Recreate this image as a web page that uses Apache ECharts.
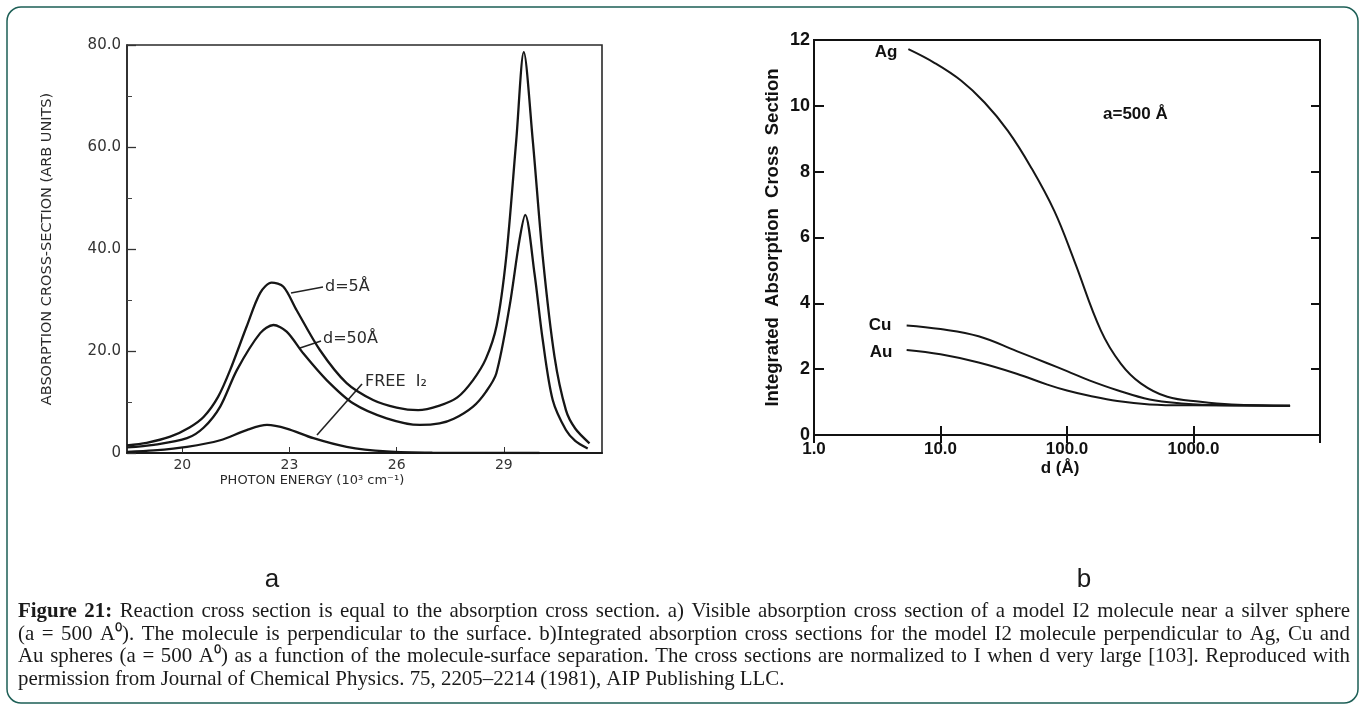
<!DOCTYPE html>
<html><head><meta charset="utf-8">
<script src="https://cdn.jsdelivr.net/npm/echarts@6.0.0/dist/echarts.min.js"></script>
<style>html,body{margin:0;padding:0;background:#fff}#c{width:1365px;height:710px}</style>
</head><body><div id="c"></div>
<script>
// ---------- Panel a : absorption cross-section vs photon energy ----------
const energyD5 = [18.45, 19.0, 19.66, 20.2, 20.6, 21.0, 21.34, 21.8, 22.18, 22.5, 22.83, 23.2, 23.85, 24.6, 25.34, 26.0, 26.6, 27.2, 27.7, 28.14, 28.5, 28.8, 29.07, 29.35, 29.56, 29.81, 30.09, 30.42, 30.74, 31.0, 31.4];
const sigmaD5  = [1.5, 2.0, 3.2, 5.0, 7.1, 11.0, 16.3, 24.8, 31.4, 33.4, 32.6, 28.0, 20.2, 13.7, 10.4, 8.9, 8.4, 9.3, 10.9, 14.3, 18.5, 25.0, 38.5, 61.4, 78.6, 61.4, 38.5, 18.9, 8.4, 4.8, 1.9];
const energyD50 = [18.45, 19.2, 20.13, 20.6, 21.06, 21.53, 22.18, 22.55, 22.92, 23.39, 24.04, 24.79, 25.72, 26.65, 27.2, 27.6, 28.14, 28.5, 28.79, 29.16, 29.44, 29.6, 29.86, 30.09, 30.37, 30.74, 31.0, 31.35];
const sigmaD50  = [1.1, 1.6, 2.9, 5.0, 9.1, 16.3, 23.5, 25.1, 23.8, 19.5, 14.3, 9.7, 6.8, 5.5, 5.8, 6.7, 9.1, 12.0, 15.6, 28.7, 41.8, 46.7, 35.2, 22.2, 10.4, 4.5, 2.4, 0.9];
const energyFree = [18.45, 19.2, 20.13, 21.06, 21.8, 22.37, 22.92, 23.67, 24.6, 25.72, 27.0, 30.0];
const sigmaFree  = [0.2, 0.5, 1.2, 2.5, 4.5, 5.5, 4.8, 2.9, 1.2, 0.3, 0.05, 0.0];
const energyTicks = [20, 23, 26, 29];

// ---------- Panel b : integrated absorption vs separation ----------
const dAg = [5.57, 9.0, 14.6, 22.3, 34.1, 52, 79.5, 114, 185, 266, 383, 621, 1135, 2000, 5800];
const sAg = [11.72, 11.3, 10.76, 10.1, 9.24, 8.13, 6.8, 5.3, 3.18, 2.17, 1.57, 1.16, 1.01, 0.93, 0.89];
const dCu = [5.4, 10, 20, 40, 70, 100, 150, 250, 450, 800, 1500, 5800];
const sCu = [3.33, 3.22, 3.0, 2.55, 2.18, 1.94, 1.66, 1.36, 1.08, 0.96, 0.91, 0.89];
const dAu = [5.4, 10, 20, 40, 70, 100, 150, 250, 450, 1000, 5800];
const sAu = [2.58, 2.45, 2.2, 1.86, 1.53, 1.35, 1.19, 1.03, 0.93, 0.9, 0.89];

const captionLines = [
  {segs: [{t: 'Figure 21:', b: true}, {t: 'Reaction cross section is equal to the absorption cross section. a) Visible absorption cross section of a model I2 molecule near a silver sphere'}], justify: true},
  {segs: [{t: '(a = 500 A\u2070). The molecule is perpendicular to the surface. b)Integrated absorption cross sections for the model I2 molecule perpendicular to Ag, Cu and'}], justify: true},
  {segs: [{t: 'Au spheres (a = 500 A\u2070) as a function of the molecule-surface separation. The cross sections are normalized to I when d very large [103]. Reproduced with'}], justify: true},
  {segs: [{t: 'permission from Journal of Chemical Physics. 75, 2205\u20132214 (1981), AIP Publishing LLC.'}], justify: false}
];

const zip = (xs, ys) => xs.map((x, i) => [x, ys[i]]);
const INK = '#161616';
const sansA = '"DejaVu Sans", sans-serif';
const sansB = '"Liberation Sans", Arial, sans-serif';
const serif = '"Liberation Serif", "Times New Roman", serif';

// caption layout (justified words)
function captionGraphics() {
  const ctx = document.createElement('canvas').getContext('2d');
  const X0 = 18, X1 = 1350, Y0 = 612, LH = 22.5;
  const fontOf = (b, fs) => (b ? 'bold ' : '') + fs + 'px ' + serif;
  const wordsOf = ln => { const w = []; ln.segs.forEach(s => s.t.split(' ').filter(Boolean).forEach(t => w.push({w: t, b: !!s.b}))); return w; };
  const natural = (ln, fs) => {
    const ws = wordsOf(ln); let tot = 0;
    ws.forEach(o => { ctx.font = fontOf(o.b, fs); tot += ctx.measureText(o.w).width; });
    ctx.font = fontOf(false, fs);
    return tot + ctx.measureText(' ').width * (ws.length - 1);
  };
  let fs = 100 * 767 / natural(captionLines[3], 100);
  captionLines.forEach(ln => { if (ln.justify) { const n = natural(ln, fs); if (n > X1 - X0) fs *= (X1 - X0) / n; } });
  fs = Math.floor(fs * 10) / 10;
  const els = [];
  captionLines.forEach((ln, i) => {
    const words = wordsOf(ln);
    words.forEach(o => { ctx.font = fontOf(o.b, fs); o.width = ctx.measureText(o.w).width; });
    ctx.font = fontOf(false, fs);
    const sp = ctx.measureText(' ').width;
    const total = words.reduce((a, o) => a + o.width, 0);
    const gap = ln.justify ? (X1 - X0 - total) / (words.length - 1) : sp;
    let x = X0;
    words.forEach(o => {
      els.push({type: 'text', x: x, y: Y0 + i * LH, silent: true,
        style: {text: o.w, font: fontOf(o.b, fs), fill: '#1a1a1a', textVerticalAlign: 'middle'}});
      x += o.width + gap;
    });
  });
  return els;
}

const chart = echarts.init(document.getElementById('c'), null, {renderer: 'canvas'});

const lineStyleA = {color: INK, width: 2.3};
const lineStyleB = {color: INK, width: 2};

const option = {
  backgroundColor: '#fff',
  animation: false,
  grid: [
    {left: 127, top: 45, width: 475, height: 408, show: true, borderColor: '#2a2a2a', borderWidth: 1.6, backgroundColor: 'transparent'},
    {left: 814, top: 40, width: 506, height: 395, show: true, borderColor: '#111', borderWidth: 2, backgroundColor: 'transparent'}
  ],
  xAxis: [
    {gridIndex: 0, type: 'value', min: 18.45, max: 31.75,
      axisLine: {show: true, lineStyle: {color: '#1a1a1a', width: 2}},
      axisTick: {show: true, inside: true, length: 6, customValues: energyTicks, lineStyle: {color: '#333'}},
      axisLabel: {customValues: energyTicks, fontSize: 14, fontFamily: sansA, color: '#333', margin: 5},
      splitLine: {show: false}},
    {gridIndex: 1, type: 'log', logBase: 10, min: 1, max: 10000,
      axisLine: {show: true, lineStyle: {color: '#111', width: 2}},
      axisTick: {show: true, inside: true, length: 9, lineStyle: {color: '#111', width: 2}},
      axisLabel: {fontSize: 17, fontWeight: 'bold', fontFamily: sansB, color: '#111', margin: 6,
        formatter: v => (v >= 10000 ? '' : v.toFixed(1))},
      splitLine: {show: false}, minorTick: {show: false}},
    {gridIndex: 1, type: 'log', logBase: 10, min: 1, max: 10000, position: 'top',
      axisLine: {show: false},
      axisTick: {show: true, inside: true, length: 8, lineStyle: {color: '#111', width: 2}},
      axisLabel: {show: false}, splitLine: {show: false}}
  ],
  yAxis: [
    {gridIndex: 0, type: 'value', min: 0, max: 80, interval: 20,
      axisLine: {show: true, lineStyle: {color: '#2a2a2a', width: 1.6}},
      axisTick: {show: true, inside: true, length: 9, lineStyle: {color: '#333', width: 1.3}},
      minorTick: {show: true, splitNumber: 2, length: 5, lineStyle: {color: '#444'}},
      axisLabel: {fontSize: 15, fontFamily: sansA, color: '#333', margin: 6,
        formatter: v => (v === 0 ? '0' : v.toFixed(1))},
      splitLine: {show: false},
      name: 'ABSORPTION CROSS-SECTION (ARB UNITS)', nameLocation: 'middle', nameGap: 72, nameRotate: 90,
      nameTextStyle: {fontSize: 14.5, fontFamily: sansA, color: '#2a2a2a'}},
    {gridIndex: 1, type: 'value', min: 0, max: 12, interval: 2,
      axisLine: {show: true, lineStyle: {color: '#111', width: 2}},
      axisTick: {show: true, inside: true, length: 10, lineStyle: {color: '#111', width: 2}},
      axisLabel: {fontSize: 18, fontWeight: 'bold', fontFamily: sansB, color: '#111', margin: 4},
      splitLine: {show: false},
      name: 'Integrated  Absorption  Cross  Section', nameLocation: 'middle', nameGap: 32, nameRotate: 90,
      nameTextStyle: {fontSize: 18.5, fontWeight: 'bold', fontFamily: sansB, color: '#111'}},
    {gridIndex: 1, type: 'value', min: 0, max: 12, interval: 2, position: 'right',
      axisLine: {show: false},
      axisTick: {show: true, inside: true, length: 9, lineStyle: {color: '#111', width: 2}},
      axisLabel: {show: false}, splitLine: {show: false}}
  ],
  series: [
    {name: 'd=5Å', type: 'line', xAxisIndex: 0, yAxisIndex: 0, data: zip(energyD5, sigmaD5), showSymbol: false, smooth: 0.3, lineStyle: lineStyleA},
    {name: 'd=50Å', type: 'line', xAxisIndex: 0, yAxisIndex: 0, data: zip(energyD50, sigmaD50), showSymbol: false, smooth: 0.3, lineStyle: lineStyleA},
    {name: 'FREE I2', type: 'line', xAxisIndex: 0, yAxisIndex: 0, data: zip(energyFree, sigmaFree), showSymbol: false, smooth: 0.3, lineStyle: lineStyleA},
    {name: 'Ag', type: 'line', xAxisIndex: 1, yAxisIndex: 1, data: zip(dAg, sAg), showSymbol: false, smooth: 0.4, lineStyle: lineStyleB},
    {name: 'Cu', type: 'line', xAxisIndex: 1, yAxisIndex: 1, data: zip(dCu, sCu), showSymbol: false, smooth: 0.4, lineStyle: lineStyleB},
    {name: 'Au', type: 'line', xAxisIndex: 1, yAxisIndex: 1, data: zip(dAu, sAu), showSymbol: false, smooth: 0.4, lineStyle: lineStyleB}
  ],
  graphic: [
    {type: 'rect', shape: {x: 7, y: 7, width: 1351, height: 696, r: 14}, silent: true,
      style: {fill: 'none', stroke: '#1d5f56', lineWidth: 1.5}},
    // panel a annotations
    {type: 'text', x: 312, y: 481, silent: true, style: {text: 'PHOTON ENERGY (10\u00b3 cm\u207b\u00b9)', font: '13px ' + sansA, fill: '#2a2a2a', textAlign: 'center', textVerticalAlign: 'middle'}},
    {type: 'line', shape: {x1: 291, y1: 293, x2: 323, y2: 287}, silent: true, style: {stroke: '#222', lineWidth: 1.6}},
    {type: 'text', x: 325, y: 287, silent: true, style: {text: 'd=5Å', font: '16px ' + sansA, fill: '#2a2a2a', textVerticalAlign: 'middle'}},
    {type: 'line', shape: {x1: 300, y1: 348, x2: 321, y2: 341}, silent: true, style: {stroke: '#222', lineWidth: 1.6}},
    {type: 'text', x: 323, y: 339, silent: true, style: {text: 'd=50Å', font: '16px ' + sansA, fill: '#2a2a2a', textVerticalAlign: 'middle'}},
    {type: 'line', shape: {x1: 317, y1: 435, x2: 362, y2: 384}, silent: true, style: {stroke: '#222', lineWidth: 1.6}},
    {type: 'text', x: 365, y: 382, silent: true, style: {text: 'FREE  I\u2082', font: '16px ' + sansA, fill: '#2a2a2a', textVerticalAlign: 'middle'}},
    // panel b annotations
    {type: 'text', x: 886, y: 52, silent: true, style: {text: 'Ag', font: 'bold 17px ' + sansB, fill: '#111', textAlign: 'center', textVerticalAlign: 'middle'}},
    {type: 'text', x: 880, y: 325, silent: true, style: {text: 'Cu', font: 'bold 17px ' + sansB, fill: '#111', textAlign: 'center', textVerticalAlign: 'middle'}},
    {type: 'text', x: 881, y: 352, silent: true, style: {text: 'Au', font: 'bold 17px ' + sansB, fill: '#111', textAlign: 'center', textVerticalAlign: 'middle'}},
    {type: 'text', x: 1103, y: 114, silent: true, style: {text: 'a=500 Å', font: 'bold 17px ' + sansB, fill: '#111', textVerticalAlign: 'middle'}},
    {type: 'text', x: 1060, y: 468, silent: true, style: {text: 'd (Å)', font: 'bold 17px ' + sansB, fill: '#111', textAlign: 'center', textVerticalAlign: 'middle'}},
    // panel letters
    {type: 'text', x: 272, y: 580, silent: true, style: {text: 'a', font: '26px ' + sansB, fill: '#1a1a1a', textAlign: 'center', textVerticalAlign: 'middle'}},
    {type: 'text', x: 1084, y: 580, silent: true, style: {text: 'b', font: '26px ' + sansB, fill: '#1a1a1a', textAlign: 'center', textVerticalAlign: 'middle'}}
  ].concat(captionGraphics())
};
chart.setOption(option);
</script>
</body></html>
